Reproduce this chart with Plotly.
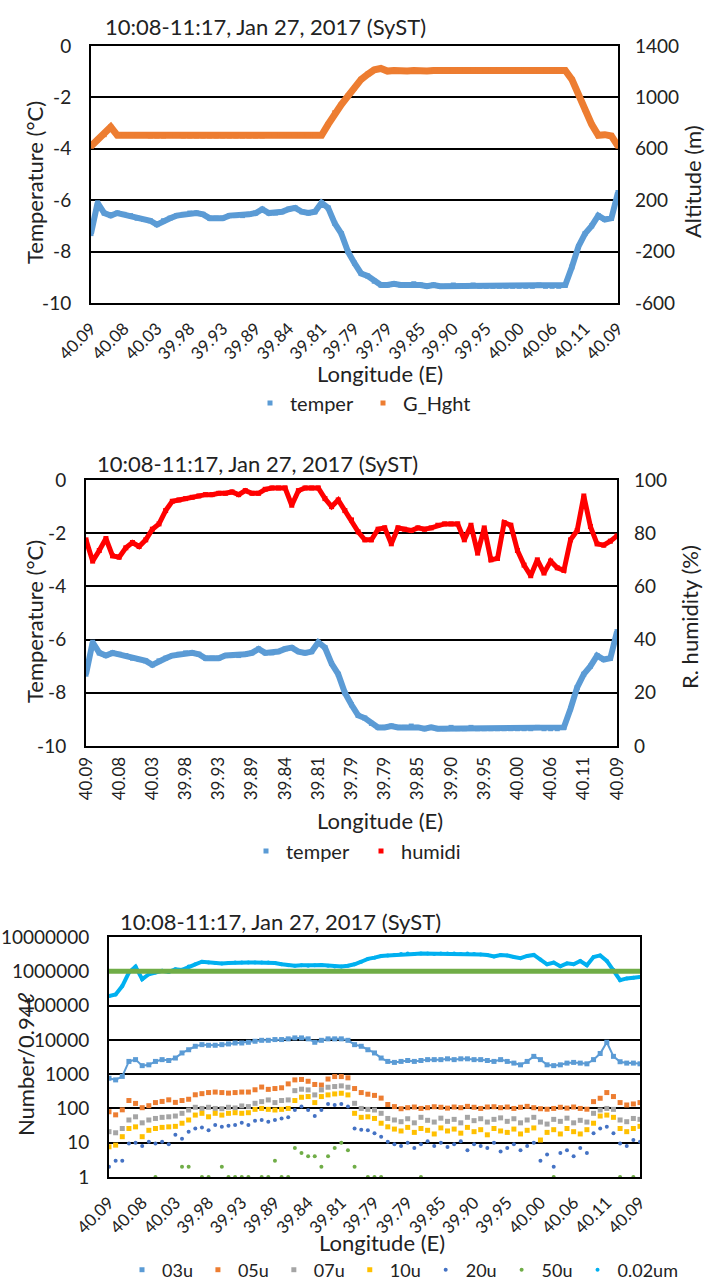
import plotly.graph_objects as go

# ---------------- data ----------------
sample_index = list(range(81))
tick_index = [0, 5, 10, 15, 20, 25, 30, 35, 40, 45, 50, 55, 60, 65, 70, 75, 80]
lon_labels = ["40.09", "40.08", "40.03", "39.98", "39.93", "39.89", "39.84", "39.81", "39.79",
              "39.79", "39.85", "39.90", "39.95", "40.00", "40.06", "40.11", "40.09"]

temper = [-7.3, -6.1, -6.5, -6.6, -6.5, -6.55, -6.6, -6.7, -6.75, -6.8,
          -6.95, -6.8, -6.7, -6.6, -6.55, -6.5, -6.5, -6.55, -6.7, -6.7,
          -6.7, -6.6, -6.6, -6.6, -6.55, -6.5, -6.35, -6.5, -6.5, -6.45,
          -6.35, -6.3, -6.45, -6.5, -6.45, -6.1, -6.3, -6.9, -7.3, -8.0,
          -8.45, -8.85, -8.95, -9.15, -9.3, -9.3, -9.25, -9.3, -9.3, -9.25,
          -9.3, -9.35, -9.3, -9.35, -9.35, -9.3, -9.35, -9.35, -9.3, -9.35,
          -9.35, -9.35, -9.35, -9.35, -9.35, -9.35, -9.35, -9.35, -9.3, -9.35,
          -9.35, -9.35, -9.3, -8.6, -7.8, -7.3, -7.0, -6.6, -6.75, -6.7, -5.7]

g_hght = [620, 670, 710, 770, 705, 705, 705, 705, 705, 700,
          700, 700, 705, 705, 700, 700, 700, 700, 700, 700,
          700, 700, 700, 700, 700, 700, 700, 705, 705, 705,
          705, 705, 705, 705, 705, 705, 790, 880, 945, 1010,
          1075, 1140, 1180, 1215, 1225, 1205, 1210, 1205, 1205, 1210,
          1205, 1205, 1210, 1210, 1205, 1205, 1210, 1210, 1210, 1205,
          1210, 1210, 1215, 1215, 1215, 1215, 1215, 1215, 1215, 1215,
          1215, 1215, 1210, 1140, 1020, 905, 790, 705, 710, 700, 620]

humidi = [77.5, 69.5, 73.5, 78, 71.5, 71, 74.5, 76.5, 75, 77.5,
          81.5, 83.5, 88.5, 92, 92.5, 93, 93.5, 94, 94.5, 94.5,
          95, 95, 95.5, 94.5, 96, 95, 95, 96.5, 97, 97,
          97, 90.5, 96, 97, 97, 97, 93, 90, 92.5, 88.5,
          85, 80.5, 77.5, 77.5, 81.5, 82, 76, 82, 81.5, 81,
          82, 81.5, 82, 83, 83.5, 83.5, 83.5, 77.5, 83, 72.5,
          82, 70, 70.5, 84, 83, 73.5, 68, 64, 70, 65,
          69.5, 67, 66, 77.5, 81, 94, 82.5, 76, 75.5, 77, 79]

n_002um = [190000, 210000, 370000, 920000, 1370000, 590000, 820000, 920000, 1030000, 960000,
           1150000, 1100000, 1370000, 1600000, 1900000, 1800000, 1750000, 1700000, 1750000, 1800000,
           1800000, 1800000, 1800000, 1800000, 1800000, 1750000, 1600000, 1500000, 1450000, 1500000,
           1450000, 1500000, 1520000, 1450000, 1370000, 1370000, 1450000, 1600000, 1900000, 2300000,
           2500000, 2800000, 2900000, 3000000, 3200000, 3300000, 3200000, 3300000, 3300000, 3200000,
           3300000, 3300000, 3300000, 3200000, 3300000, 3200000, 3100000, 3000000, 2700000, 3000000,
           2900000, 2600000, 2400000, 2800000, 3000000, 2200000, 1600000, 1800000, 1400000, 1700000,
           1600000, 2000000, 1500000, 2600000, 2900000, 2000000, 1100000, 550000, 620000, 650000, 680000]

n_03u = [760, 680, 860, 2350, 2650, 1770, 1870, 2350, 2650, 2500,
         2950, 4150, 5150, 6500, 7250, 6950, 6950, 7250, 7600, 8100,
         8100, 8500, 9100, 9700, 9700, 10200, 10200, 10700, 11400, 11400,
         10700, 8500, 9700, 10700, 10700, 10700, 9700, 7250, 6500, 5150,
         4150, 2950, 2350, 2200, 2350, 2500, 2350, 2500, 2650, 2650,
         2650, 2800, 2650, 2800, 2800, 2650, 2650, 2500, 2350, 2650,
         2350, 2100, 1870, 2350, 3300, 2650, 1870, 1770, 1870, 2100,
         2200, 2100, 2000, 2650, 4000, 8500, 3300, 2300, 2100, 2100, 2000]

n_05u = [80, 65, 91, 170, 140, 105, 120, 148, 160, 178,
         150, 170, 185, 250, 270, 290, 300, 290, 280, 290,
         300, 300, 350, 420, 360, 380, 400, 520, 680, 700,
         620, 500, 480, 720, 850, 850, 780, 380, 290, 260,
         240, 200, 130, 113, 98, 105, 110, 100, 105, 112,
         108, 102, 110, 105, 115, 108, 100, 110, 112, 105,
         110, 100, 108, 115, 105, 98, 95, 100, 108, 102,
         110, 100, 95, 158, 198, 290, 222, 148, 126, 135, 148]

n_07u = [21, 19.5, 26, 46, 57, 38, 46, 51, 55, 57,
         60, 72, 90, 108, 100, 108, 100, 98, 108, 103,
         118, 113, 141, 158, 177, 148, 170, 177, 330, 364,
         347, 248, 347, 415, 435, 455, 415, 141, 100, 94,
         90, 72, 51, 46, 41, 50, 38, 55, 45, 40,
         52, 42, 48, 38, 55, 44, 50, 40, 48, 53,
         42, 50, 38, 46, 55, 40, 35, 48, 42, 52,
         38, 45, 40, 72, 90, 100, 94, 46, 41, 51, 48]

n_10u = [7.6, 8.5, 15, 26, 29, 15, 23, 26, 28, 29,
         30, 37, 46, 64, 72, 57, 72, 64, 72, 75,
         72, 75, 94, 100, 94, 90, 94, 100, 170, 212,
         222, 148, 222, 248, 265, 277, 248, 72, 55, 57,
         51, 37, 29, 25, 22, 28, 20, 26, 23, 18,
         27, 22, 25, 19, 28, 21, 24, 17, 26, 22,
         20, 25, 18, 23, 27, 12, 20, 24, 18, 26,
         21, 18, 24, 37, 60, 64, 55, 26, 21, 26, 30]

n_20u = [2, 3, 3, 9.5, 10, 8, 10.6, 9.5, 10.6, 9,
         17, 13, 21, 26, 28, 23, 33, 29, 31, 33,
         38, 33, 44, 46, 41, 46, 51, 55, 90, 113,
         90, 60, 90, 135, 126, 135, 113, 26, 24, 23,
         19, 15, 10.6, 9, 8, 10, 7, 9, 11, 8,
         10, 7.5, 9, 11, 6, 9, 8, 7, 10, 5.5,
         7, 9, 6, 8, 10, 3, 4.5, 2, 5, 6,
         4, 7, 5, 19, 26, 29, 19, 9.5, 8, 12, 10.6]

n_50u = [None, None, None, None, None, None, None, 1, None, None,
         None, 2, 2, None, 1, 1, None, 2, 1, 1,
         1, 1, None, 1, 1, 3, 1, 1, 7, 5,
         4, 4, 2, 4, 7, 10, 6, 2, None, 1,
         1, 1, None, None, None, None, None, 1, None, None,
         None, None, None, None, None, None, None, None, None, None,
         None, None, None, None, None, None, None, 1, None, None,
         None, None, None, None, None, None, None, 1, None, 1, None]

level_index = [0, 80]
level_1e6 = [1000000, 1000000]

temp_ticks = [-10, -8, -6, -4, -2, 0]
temp_text = ["-10", "-8", "-6", "-4", "-2", "0"]
alt_ticks = [-600, -200, 200, 600, 1000, 1400]
alt_text = ["-600", "-200", "200", "600", "1000", "1400"]
rh_ticks = [0, 20, 40, 60, 80, 100]
rh_text = ["0", "20", "40", "60", "80", "100"]
num_ticks = [1, 10, 100, 1000, 10000, 100000, 1000000, 10000000]
num_text = ["1", "10", "100", "1000", "10000", "100000", "1000000", "10000000"]

title_text = "10:08-11:17, Jan 27, 2017 (SyST)"

# ---------------- style ----------------
FONT = "Lato, Carlito, sans-serif"
C_TEMP = "#5B9BD5"
C_ALT = "#ED7D31"
C_RH = "#FF0000"

W, H = 707, 1279


def px(v):
    return v / W


def py(v):
    return 1 - v / H


fig = go.Figure()


def line_and_legend(x, y, name, color, width, xa, ya, legend, symbol="square", msize=5):
    fig.add_trace(go.Scatter(x=x, y=y, mode="lines", line=dict(color=color, width=width),
                             xaxis=xa, yaxis=ya, showlegend=False, legendgroup=name + legend,
                             hoverinfo="skip"))
    fig.add_trace(go.Scatter(x=x, y=y, mode="markers", name=name,
                             marker=dict(color=color, size=msize, symbol=symbol),
                             xaxis=xa, yaxis=ya, legend=legend, legendgroup=name + legend))


# Panel 1
line_and_legend(sample_index, temper, "temper", C_TEMP, 6, "x", "y", "legend")
line_and_legend(sample_index, g_hght, "G_Hght", C_ALT, 7, "x", "y2", "legend")

# Panel 2
line_and_legend(sample_index, temper, "temper", C_TEMP, 6, "x2", "y3", "legend2")
line_and_legend(sample_index, humidi, "humidi", C_RH, 5, "x2", "y4", "legend2")

# Panel 3
fig.add_trace(go.Scatter(x=sample_index, y=n_03u, mode="lines", line=dict(color="#5B9BD5", width=2),
                         xaxis="x3", yaxis="y5", showlegend=False, hoverinfo="skip"))
fig.add_trace(go.Scatter(x=sample_index, y=n_03u, mode="markers", name="03u",
                         marker=dict(color="#5B9BD5", size=5, symbol="square"),
                         xaxis="x3", yaxis="y5", legend="legend3"))
fig.add_trace(go.Scatter(x=sample_index, y=n_05u, mode="markers", name="05u",
                         marker=dict(color="#ED7D31", size=5, symbol="square"),
                         xaxis="x3", yaxis="y5", legend="legend3"))
fig.add_trace(go.Scatter(x=sample_index, y=n_07u, mode="markers", name="07u",
                         marker=dict(color="#A5A5A5", size=5, symbol="square"),
                         xaxis="x3", yaxis="y5", legend="legend3"))
fig.add_trace(go.Scatter(x=sample_index, y=n_10u, mode="markers", name="10u",
                         marker=dict(color="#FFC000", size=5, symbol="square"),
                         xaxis="x3", yaxis="y5", legend="legend3"))
fig.add_trace(go.Scatter(x=sample_index, y=n_20u, mode="markers", name="20u",
                         marker=dict(color="#4472C4", size=4, symbol="circle"),
                         xaxis="x3", yaxis="y5", legend="legend3"))
fig.add_trace(go.Scatter(x=sample_index, y=n_50u, mode="markers", name="50u",
                         marker=dict(color="#70AD47", size=4, symbol="circle"),
                         xaxis="x3", yaxis="y5", legend="legend3"))
fig.add_trace(go.Scatter(x=sample_index, y=n_002um, mode="lines", line=dict(color="#00B0F0", width=4),
                         xaxis="x3", yaxis="y5", showlegend=False, hoverinfo="skip"))
fig.add_trace(go.Scatter(x=sample_index, y=n_002um, mode="markers", name="0.02um",
                         marker=dict(color="#00B0F0", size=4, symbol="circle"),
                         xaxis="x3", yaxis="y5", legend="legend3"))
fig.add_trace(go.Scatter(x=level_index, y=level_1e6, mode="lines", line=dict(color="#70AD47", width=5),
                         xaxis="x3", yaxis="y5", showlegend=False, hoverinfo="skip"))

axis_line = dict(showline=True, mirror=True, linecolor="black", linewidth=2, zeroline=False,
                 automargin=False)


def xaxis(domain, anchor, angle, size, standoff):
    return dict(domain=domain, anchor=anchor, range=[0, 80], tickmode="array",
                tickvals=tick_index, ticktext=lon_labels, tickangle=angle,
                tickfont=dict(size=size, family=FONT, color="#222"), showgrid=False,
                ticks="", ticklabelstandoff=standoff, **axis_line)


def yleft(domain, anchor, rng, vals, text, log=False):
    d = dict(domain=domain, anchor=anchor, range=rng, tickmode="array", tickvals=vals, ticktext=text,
             tickfont=dict(size=19, family=FONT, color="#222"), showgrid=True, gridcolor="black",
             gridwidth=2, ticks="", ticklabelstandoff=14, **axis_line)
    if log:
        d["type"] = "log"
    return d


def yright(overlay, anchor, rng, vals, text):
    return dict(overlaying=overlay, anchor=anchor, side="right", range=rng, tickmode="array",
                tickvals=vals, ticktext=text, tickfont=dict(size=19, family=FONT, color="#222"),
                showgrid=False, zeroline=False, showline=False, ticks="", ticklabelstandoff=16,
                automargin=False)


legend_common = dict(orientation="h", xanchor="left", yanchor="middle", itemsizing="trace",
                     bgcolor="rgba(0,0,0,0)", borderwidth=0)

fig.update_layout(
    width=W, height=H, margin=dict(l=0, r=0, t=0, b=0, autoexpand=False),
    paper_bgcolor="white", plot_bgcolor="white",
    font=dict(family=FONT, color="#222"),
    xaxis=xaxis([px(91), px(618)], "y", -45, 17, 7),
    yaxis=yleft([py(303), py(46)], "x", [-10, 0], temp_ticks, temp_text),
    yaxis2=yright("y", "x", [-600, 1400], alt_ticks, alt_text),
    xaxis2=xaxis([px(86), px(617)], "y3", -90, 17, 2),
    yaxis3=yleft([py(746), py(480)], "x2", [-10, 0], temp_ticks, temp_text),
    yaxis4=yright("y3", "x2", [0, 100], rh_ticks, rh_text),
    xaxis3=xaxis([px(109), px(640)], "y5", -45, 17, 7),
    yaxis5=yleft([py(1177), py(937)], "x3", [0, 7], num_ticks, num_text, log=True),
    legend=dict(x=px(250), y=py(403), font=dict(size=20, family=FONT, color="#222"),
                entrywidth=68, entrywidthmode="pixels", **legend_common),
    legend2=dict(x=px(246), y=py(851), font=dict(size=20, family=FONT, color="#222"),
                 entrywidth=70, entrywidthmode="pixels", **legend_common),
    legend3=dict(x=px(122), y=py(1270), font=dict(size=18, family=FONT, color="#222"),
                 **legend_common),
)

annotations = []
for tx, ty in [(103, 26), (95, 463), (118, 921)]:
    annotations.append(dict(text=title_text, x=px(tx), y=py(ty), xref="paper", yref="paper",
                            xanchor="left", yanchor="middle", showarrow=False,
                            font=dict(size=22, family=FONT, color="#222")))
axis_titles = [
    ("Temperature (°C)", 34, 183, -90),
    ("Altitude (m)", 692, 182, -90),
    ("Longitude (E)", 380, 373, 0),
    ("Temperature (°C)", 34, 622, -90),
    ("R. humidity (%)", 690, 617, -90),
    ("Longitude (E)", 380, 820, 0),
    ("Number/0.94ℓ", 25, 1065, -90),
    ("Longitude (E)", 382, 1242, 0),
]
for text, tx, ty, ang in axis_titles:
    annotations.append(dict(text=text, x=px(tx), y=py(ty), xref="paper", yref="paper",
                            xanchor="center", yanchor="middle", showarrow=False, textangle=ang,
                            font=dict(size=22, family=FONT, color="#222")))
fig.update_layout(annotations=annotations)

fig.write_html("out.html", config={"displayModeBar": False},
               post_script="document.body.style.margin='0';document.body.style.padding='0';")
